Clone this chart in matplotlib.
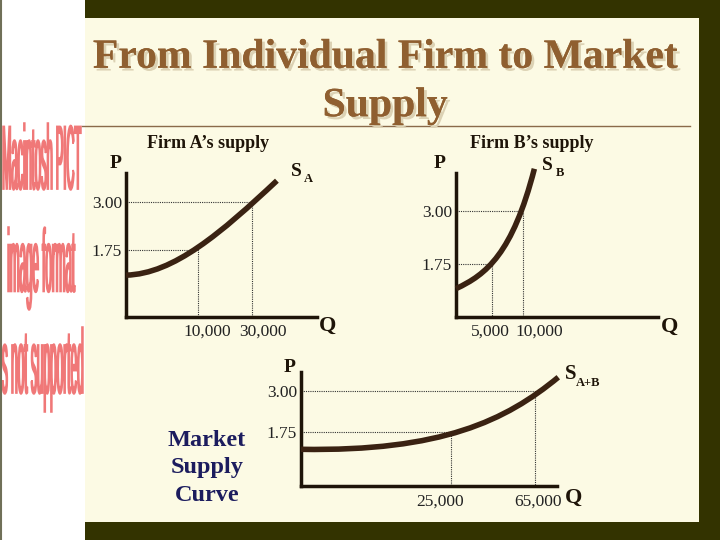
import matplotlib
matplotlib.use('Agg')
import matplotlib.pyplot as plt
from matplotlib import patheffects
from matplotlib.textpath import TextPath
from matplotlib.font_manager import FontProperties
from matplotlib.patches import PathPatch, Rectangle
from matplotlib.path import Path
from matplotlib.lines import Line2D
from matplotlib.transforms import Affine2D

W, H = 720, 540

# price levels marked on every panel
price_ticks = [1.75, 3.00]
price_labels = ['1.75', '3.00']

# supply curves as cubic bezier (start, ctrl, ctrl, end);
# quantity is in schematic axis units 0-100, price in $
a_q = [0, 25, 50, 79]
a_p = [1.09, 1.12, 2.20, 3.55]
a_q_ticks = [37.7, 66]
a_q_labels = ['10,000', '30,000']

b_q = [0, 15, 28, 38.8]
b_p = [1.17, 1.50, 2.00, 4.00]
b_q_ticks = [17.8, 33.2]
b_q_labels = ['5,000', '10,000']

c_q = [0, 55, 80, 100.5]
c_p = [1.22, 1.15, 2.10, 3.42]
c_q_ticks = [58.6, 91.4]
c_q_labels = ['25,000', '65,000']

SERIF = 'Liberation Serif'
INK = '#1e1408'
CURVE = '#3a2212'

fig = plt.figure(figsize=(W / 100, H / 100), dpi=100)
fig.patch.set_facecolor('white')


def px(x, y):
    return x / W, 1 - y / H


def ftext(x, y, s, **kw):
    kw.setdefault('ha', 'center')
    kw.setdefault('va', 'center')
    kw.setdefault('family', SERIF)
    kw.setdefault('color', INK)
    return fig.text(*px(x, y), s, **kw)


def rect(x0, y0, x1, y1, color):
    fig.patches.append(Rectangle((x0 / W, 1 - y1 / H), (x1 - x0) / W, (y1 - y0) / H,
                                 transform=fig.transFigure, facecolor=color,
                                 edgecolor='none', zorder=-2))


# slide frame
rect(85, 0, 720, 540, '#333300')
rect(85, 18, 699, 522, '#fcfae4')
fig.lines.append(Line2D([0.5 / W, 0.5 / W], [0, 1], transform=fig.transFigure,
                        color='#707058', lw=1.5))
fig.lines.append(Line2D([82 / W, 690 / W], [1 - 126 / H] * 2, transform=fig.transFigure,
                        color='#8a6a4a', lw=1))

# "PICT not supported" placeholder, squeezed into boxes
pict_lines = [('Macintosh PICT', (3, 123, 81, 190)),
              ('image format', (8, 227, 75, 310)),
              ('is not supported', (0, 327, 83, 412))]
for s, (x0, y0, x1, y1) in pict_lines:
    tp = TextPath((0, 0), s, size=10, prop=FontProperties(family='Liberation Sans'))
    bb = tp.get_extents()
    tr = (Affine2D().translate(-bb.x0, -bb.y0)
          .scale((x1 - x0) / bb.width / W, (y1 - y0) / bb.height / H)
          .translate(x0 / W, 1 - y1 / H))
    fig.patches.append(PathPatch(tp, transform=tr + fig.transFigure,
                                 facecolor='#f07878', edgecolor='#f07878', lw=1.1))

# title
ftext(385, 82, 'From Individual Firm to Market\nSupply', fontsize=30,
      weight='bold', color='#8f5f30', linespacing=1.36,
      path_effects=[patheffects.withSimplePatchShadow(offset=(2, -2),
                                                      shadow_rgbFace='#dcd2b4', alpha=1),
                    patheffects.Normal()])


def panel(origin, top_right, ylim, q, p, q_ticks, q_labels, q_offsets, label_dy):
    x0, y0 = origin
    x1, y1 = top_right
    ax = fig.add_axes([x0 / W, 1 - y0 / H, (x1 - x0) / W, (y0 - y1) / H])
    ax.set_facecolor('none')
    ax.set_xlim(0, 100)
    ax.set_ylim(*ylim)
    for side in ['top', 'right']:
        ax.spines[side].set_visible(False)
    for side in ['left', 'bottom']:
        ax.spines[side].set_linewidth(2.5)
        ax.spines[side].set_color(INK)
    ax.set_xticks([])
    ax.set_yticks(price_ticks, price_labels, family=SERIF, fontsize=12.5,
                  color='#222222')
    ax.tick_params(axis='y', length=0, pad=3)
    for qt, pt in zip(q_ticks, price_ticks):
        ax.plot([0, qt, qt], [pt, pt, ylim[0]], ls=(0, (1, 1)), lw=0.8,
                color='#333333', zorder=1)
    curve = Path(list(zip(q, p)), [Path.MOVETO, Path.CURVE4, Path.CURVE4, Path.CURVE4])
    ax.add_patch(PathPatch(curve, facecolor='none', edgecolor=CURVE, lw=4,
                           capstyle='butt', clip_on=False, zorder=3))
    for qt, lab, dx in zip(q_ticks, q_labels, q_offsets):
        ax.annotate(lab, (qt, 0), xycoords=('data', 'axes fraction'),
                    xytext=(dx, -label_dy), textcoords='offset pixels',
                    ha='center', va='center', family=SERIF, fontsize=12.5,
                    color='#222222')
    return ax


panel((126, 317), (317, 173), (0, 3.75), a_q, a_p, a_q_ticks, a_q_labels, [9, 11], 15)
panel((456, 317), (658, 173), (0.5, 3.9), b_q, b_p, b_q_ticks, b_q_labels, [-2, 16], 15)
panel((301, 486), (557, 372), (0.1, 3.58), c_q, c_p, c_q_ticks, c_q_labels, [-11, 3], 16)

# panel labels
ftext(208, 143, 'Firm A\u2019s supply', fontsize=13, weight='bold')
ftext(532, 143, 'Firm B\u2019s supply', fontsize=13, weight='bold')
for x, y in [(116, 163), (440, 164), (290, 368)]:
    ftext(x, y, 'P', fontsize=14, weight='bold')
for x, y in [(328, 326), (670, 327), (574, 498)]:
    ftext(x, y, 'Q', fontsize=16, weight='bold')
ftext(296, 171, 'S', fontsize=14, weight='bold')
ftext(308, 179, 'A', fontsize=9, weight='bold')
ftext(547, 165, 'S', fontsize=14, weight='bold')
ftext(560, 173, 'B', fontsize=9, weight='bold')
ftext(571, 374, 'S', fontsize=15, weight='bold')
ftext(588, 383, 'A+B', fontsize=9, weight='bold')

ftext(207, 468, 'Market\nSupply\nCurve', fontsize=17.5, weight='bold',
      color='#1c1c5e', linespacing=1.4)

fig.savefig('out.png', dpi=100)
